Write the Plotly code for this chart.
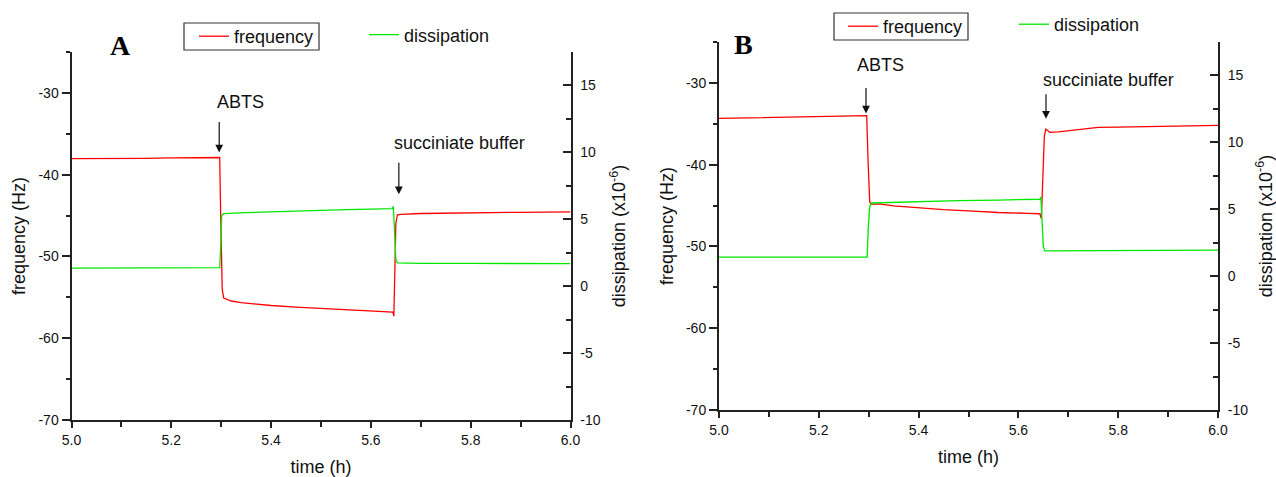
import plotly.graph_objects as go

W, H = 1276, 477

# ---------------- data ----------------
time_A_freq = [5.000, 5.050, 5.100, 5.150, 5.200, 5.250, 5.297, 5.299, 5.302, 5.305, 5.310, 5.320,
               5.340, 5.370, 5.400, 5.450, 5.500, 5.550, 5.600, 5.644, 5.646, 5.648, 5.650, 5.653,
               5.660, 5.700, 5.800, 5.900, 6.000]
freq_A = [-38.05, -38.05, -38.00, -38.00, -37.95, -37.95, -37.90, -45.0, -54.0, -55.1, -55.25, -55.45,
          -55.65, -55.85, -56.0, -56.2, -56.35, -56.5, -56.65, -56.8, -57.3, -52.0, -46.0, -44.9,
          -44.85, -44.75, -44.65, -44.6, -44.55]

time_A_diss = [5.000, 5.100, 5.200, 5.297, 5.299, 5.301, 5.305, 5.320, 5.350, 5.400, 5.450, 5.500,
               5.550, 5.600, 5.643, 5.645, 5.647, 5.650, 5.653, 5.700, 5.800, 5.900, 6.000]
diss_A = [1.35, 1.37, 1.37, 1.38, 3.0, 5.3, 5.42, 5.45, 5.50, 5.55, 5.62, 5.67,
          5.72, 5.76, 5.80, 5.97, 4.0, 2.0, 1.74, 1.70, 1.70, 1.69, 1.69]

time_B_freq = [5.000, 5.100, 5.200, 5.296, 5.299, 5.302, 5.304, 5.320, 5.350, 5.400, 5.450, 5.500,
               5.560, 5.620, 5.643, 5.646, 5.649, 5.652, 5.655, 5.658, 5.663, 5.680, 5.700, 5.730,
               5.760, 5.800, 5.900, 6.000]
freq_B = [-34.35, -34.25, -34.15, -34.0, -40.0, -44.5, -44.85, -44.8, -45.05, -45.3, -45.5, -45.65,
          -45.85, -45.95, -46.0, -46.6, -40.0, -36.5, -35.65, -35.8, -36.05, -36.0, -35.85, -35.65,
          -35.45, -35.4, -35.3, -35.2]

time_B_diss = [5.000, 5.100, 5.200, 5.297, 5.299, 5.302, 5.306, 5.350, 5.400, 5.480, 5.560, 5.643,
               5.645, 5.647, 5.650, 5.653, 5.700, 5.800, 5.900, 6.000]
diss_B = [1.42, 1.42, 1.43, 1.43, 3.5, 5.2, 5.47, 5.52, 5.57, 5.65, 5.69, 5.75,
          5.92, 4.0, 2.2, 1.89, 1.90, 1.91, 1.92, 1.94]

time_ticks = [5.0, 5.2, 5.4, 5.6, 5.8, 6.0]
time_ticktext = ["5.0", "5.2", "5.4", "5.6", "5.8", "6.0"]
freq_ticks = [-30, -40, -50, -60, -70]
freq_ticktext = ["-30", "-40", "-50", "-60", "-70"]
diss_ticks = [15, 10, 5, 0, -5, -10]
diss_ticktext = ["15", "10", "5", "0", "-5", "-10"]

freq_range = [-70, -25]
diss_range = [-10, 17.5]
time_range = [5.0, 6.0]

# events: label, arrow x (time), arrow-head frequency, label x, label frequency, arrow length px
events_A = [("ABTS", 5.296, -37.3, 5.339, -31.1, 32), ("succiniate buffer", 5.656, -42.4, 5.778, -36.1, 33)]
events_B = [("ABTS", 5.2946, -33.75, 5.324, -27.8, 27), ("succiniate buffer", 5.6553, -34.4, 5.7796, -29.7, 26)]

RED = "#ff0000"
GREEN = "#00e800"
AX = "#222222"
FONT = "Liberation Sans"


def px_x(p):
    return p / W


def px_y(p):
    return 1 - p / H


fig = go.Figure()

fig.add_trace(go.Scatter(x=time_A_freq, y=freq_A, mode="lines", name="frequency", showlegend=True,
                         line=dict(color=RED, width=1.3), xaxis="x", yaxis="y", legend="legend"))
fig.add_trace(go.Scatter(x=time_A_diss, y=diss_A, mode="lines", name="dissipation", showlegend=True,
                         line=dict(color=GREEN, width=1.3), xaxis="x", yaxis="y2", legend="legend2"))
fig.add_trace(go.Scatter(x=time_B_freq, y=freq_B, mode="lines", name="frequency", showlegend=True,
                         line=dict(color=RED, width=1.3), xaxis="x2", yaxis="y3", legend="legend3"))
fig.add_trace(go.Scatter(x=time_B_diss, y=diss_B, mode="lines", name="dissipation", showlegend=True,
                         line=dict(color=GREEN, width=1.3), xaxis="x2", yaxis="y4", legend="legend4"))

tickfont = dict(family=FONT, size=14, color="#111")
titlefont = dict(family=FONT, size=18, color="#111")


def xaxis(domain, anchor):
    return dict(domain=domain, anchor=anchor, range=time_range, tickmode="array", automargin=False,
                tickvals=time_ticks, ticktext=time_ticktext, ticks="outside", ticklen=6,
                tickwidth=1.5, tickcolor=AX, showline=True, linecolor=AX, linewidth=2,
                showgrid=False, zeroline=False, tickfont=tickfont,
                minor=dict(tickmode="linear", tick0=5.0, dtick=0.1, ticks="outside", ticklen=5,
                           tickwidth=1.5, tickcolor=AX, showgrid=False),
                title=dict(text="time (h)", font=titlefont, standoff=14))


def yleft(domain, anchor):
    return dict(domain=domain, anchor=anchor, range=freq_range, tickmode="array", automargin=False,
                tickvals=freq_ticks, ticktext=freq_ticktext, ticks="outside", ticklen=8,
                tickwidth=1.5, tickcolor=AX, showline=True, linecolor=AX, linewidth=2,
                showgrid=False, zeroline=False, tickfont=tickfont,
                minor=dict(tickmode="linear", tick0=-70, dtick=5, ticks="outside", ticklen=4,
                           tickwidth=1.5, tickcolor=AX, showgrid=False),
                title=dict(text="frequency (Hz)", font=titlefont, standoff=8))


def yright(overlay, anchor):
    return dict(overlaying=overlay, anchor=anchor, side="right", range=diss_range, tickmode="array",
                automargin=False, tickvals=diss_ticks, ticktext=diss_ticktext, ticks="inside", ticklen=8,
                tickwidth=1.5, tickcolor=AX, showline=True, linecolor=AX, linewidth=2,
                showgrid=False, zeroline=False, tickfont=tickfont, ticklabelstandoff=5,
                minor=dict(tickmode="linear", tick0=-10, dtick=2.5, ticks="inside", ticklen=5,
                           tickwidth=1.5, tickcolor=AX, showgrid=False),
                title=dict(text="dissipation (x10<sup>-6</sup>)", font=titlefont, standoff=13))


dom_xA = [px_x(71.5), px_x(570.5)]
dom_yA = [px_y(420), px_y(52)]
dom_xB = [px_x(719), px_x(1218)]
dom_yB = [px_y(410), px_y(42)]

legfont = dict(family=FONT, size=18, color="#111")

fig.update_layout(
    template="none",
    width=W, height=H, autosize=False,
    margin=dict(l=0, r=0, t=0, b=0, autoexpand=False),
    paper_bgcolor="white", plot_bgcolor="white",
    font=dict(family=FONT, color="#111"),
    showlegend=True,
    xaxis=xaxis(dom_xA, "y"),
    yaxis=yleft(dom_yA, "x"),
    yaxis2=yright("y", "x"),
    xaxis2=xaxis(dom_xB, "y3"),
    yaxis3=yleft(dom_yB, "x2"),
    yaxis4=yright("y3", "x2"),
    legend=dict(x=px_x(194), y=px_y(36.5), xanchor="left", yanchor="middle", font=legfont,
                borderwidth=0, bgcolor="rgba(0,0,0,0)"),
    legend2=dict(x=px_x(364), y=px_y(35), xanchor="left", yanchor="middle", font=legfont,
                 borderwidth=0, bgcolor="rgba(0,0,0,0)"),
    legend3=dict(x=px_x(843), y=px_y(26.5), xanchor="left", yanchor="middle", font=legfont,
                 borderwidth=0, bgcolor="rgba(0,0,0,0)"),
    legend4=dict(x=px_x(1014), y=px_y(24.5), xanchor="left", yanchor="middle", font=legfont,
                 borderwidth=0, bgcolor="rgba(0,0,0,0)"),
)

# legend frames around the "frequency" entries (Origin-style box)
legend_boxes = [(184, 23, 319, 50), (834, 13, 968, 40)]
shapes = []
for x0, y0, x1, y1 in legend_boxes:
    shapes.append(dict(type="rect", xref="paper", yref="paper", x0=px_x(x0), x1=px_x(x1),
                       y0=px_y(y1), y1=px_y(y0), line=dict(color="#333", width=1.2),
                       fillcolor="rgba(0,0,0,0)"))

annotations = []
for events, xr, yr in [(events_A, "x", "y"), (events_B, "x2", "y3")]:
    for label, ax_t, head_f, tx, ty, length in events:
        annotations.append(dict(x=ax_t, y=head_f, xref=xr, yref=yr, text="", showarrow=True,
                                ax=0, ay=-length, arrowhead=2, arrowsize=1.3, arrowwidth=1.2,
                                arrowcolor="#111"))
        annotations.append(dict(x=tx, y=ty, xref=xr, yref=yr, text=label, showarrow=False,
                                xanchor="center", yanchor="middle",
                                font=dict(family=FONT, size=18, color="#111")))

annotations.append(dict(x=px_x(120.5), y=px_y(45.5), xref="paper", yref="paper", text="<b>A</b>",
                        xanchor="center", yanchor="middle", showarrow=False,
                        font=dict(family="Liberation Serif", size=28, color="#000")))
annotations.append(dict(x=px_x(743), y=px_y(44.5), xref="paper", yref="paper", text="<b>B</b>",
                        xanchor="center", yanchor="middle", showarrow=False,
                        font=dict(family="Liberation Serif", size=28, color="#000")))

fig.update_layout(annotations=annotations, shapes=shapes)

fig.write_html("out.html")
